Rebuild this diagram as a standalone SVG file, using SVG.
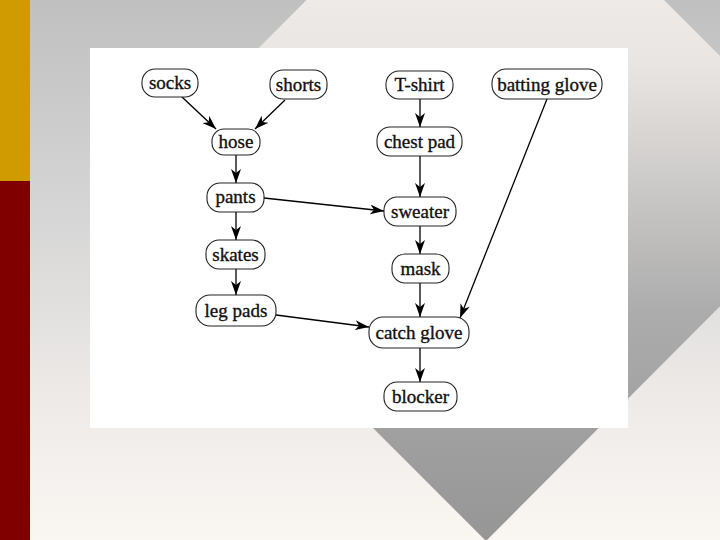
<svg xmlns="http://www.w3.org/2000/svg" width="720" height="540" viewBox="0 0 720 540">
  <defs>
    <linearGradient id="bgGrad" gradientUnits="userSpaceOnUse" x1="0" y1="0" x2="0" y2="540">
      <stop offset="0" stop-color="#c0c0c0"/>
      <stop offset="0.35" stop-color="#d3d3d3"/>
      <stop offset="0.7" stop-color="#ebe8e6"/>
      <stop offset="1" stop-color="#faf7f3"/>
    </linearGradient>
    <linearGradient id="diaGrad" gradientUnits="userSpaceOnUse" x1="0" y1="0" x2="0" y2="540">
      <stop offset="0" stop-color="#eeeae7"/>
      <stop offset="0.12" stop-color="#e9e5e2"/>
      <stop offset="0.58" stop-color="#acacac"/>
      <stop offset="0.8" stop-color="#a0a0a0"/>
      <stop offset="1" stop-color="#969696"/>
    </linearGradient>
    <marker id="arrow" viewBox="0 0 14 10" refX="14" refY="5" markerWidth="14" markerHeight="10" markerUnits="userSpaceOnUse" orient="auto">
      <path d="M0,0 L14,5 L0,10 L4,5 z" fill="#000"/>
    </marker>
    <style>
      .node rect { fill: #ffffff; stroke: #222; stroke-width: 1.1; }
      .node text { font-family: "Liberation Serif", "Times New Roman", serif; font-size: 19px; fill: #111; stroke: #111; stroke-width: 0.35; text-anchor: middle; }
      .edge { stroke: #000; stroke-width: 1.3; fill: none; marker-end: url(#arrow); }
    </style>
  </defs>

  <!-- background -->
  <rect x="0" y="0" width="720" height="540" fill="url(#bgGrad)"/>
  <polygon points="485,-179 845,181 486,541 126,181" fill="url(#diaGrad)"/>
  <rect x="0" y="0" width="30" height="181" fill="#cf9b00"/>
  <rect x="0" y="181" width="30" height="359" fill="#800000"/>

  <!-- white panel -->
  <rect x="90" y="48" width="538" height="380" fill="#ffffff"/>

  <!-- connectors -->
  <g id="connectors">
    <line class="edge" x1="182" y1="97" x2="216" y2="129"/>
    <line class="edge" x1="285" y1="100" x2="255" y2="129"/>
    <line class="edge" x1="236" y1="155" x2="236" y2="183"/>
    <line class="edge" x1="420" y1="99" x2="420" y2="127"/>
    <line class="edge" x1="420" y1="156" x2="420" y2="197"/>
    <line class="edge" x1="547" y1="99" x2="460" y2="318"/>
    <line class="edge" x1="264" y1="198" x2="384" y2="211"/>
    <line class="edge" x1="236" y1="212" x2="236" y2="240"/>
    <line class="edge" x1="420" y1="226" x2="420" y2="254"/>
    <line class="edge" x1="236" y1="269" x2="236" y2="295"/>
    <line class="edge" x1="420" y1="283" x2="420" y2="317"/>
    <line class="edge" x1="276" y1="315" x2="369" y2="327"/>
    <line class="edge" x1="420" y1="348" x2="420" y2="382"/>
  </g>

  <!-- nodes -->
  <g id="socks" class="node"><rect x="142" y="69" width="56" height="28" rx="13"/><text x="170" y="89">socks</text></g>
  <g id="shorts" class="node"><rect x="270" y="70" width="57" height="29" rx="13"/><text x="298.5" y="91">shorts</text></g>
  <g id="tshirt" class="node"><rect x="386" y="71" width="67" height="28" rx="13"/><text x="419.5" y="91">T-shirt</text></g>
  <g id="batting-glove" class="node"><rect x="492" y="69" width="110" height="30" rx="14"/><text x="547" y="90.5">batting glove</text></g>
  <g id="hose" class="node"><rect x="212" y="129" width="48" height="26" rx="12"/><text x="236" y="148">hose</text></g>
  <g id="chest-pad" class="node"><rect x="377" y="127" width="85" height="29" rx="13"/><text x="419.5" y="148">chest pad</text></g>
  <g id="pants" class="node"><rect x="207" y="183" width="57" height="29" rx="13"/><text x="235.5" y="203">pants</text></g>
  <g id="sweater" class="node"><rect x="384" y="197" width="72" height="29" rx="13"/><text x="420" y="218">sweater</text></g>
  <g id="skates" class="node"><rect x="206" y="240" width="59" height="29" rx="13"/><text x="235.5" y="261">skates</text></g>
  <g id="mask" class="node"><rect x="392" y="254" width="57" height="29" rx="13"/><text x="420.5" y="275">mask</text></g>
  <g id="leg-pads" class="node"><rect x="196" y="295" width="80" height="31" rx="14"/><text x="236" y="317">leg pads</text></g>
  <g id="catch-glove" class="node"><rect x="369" y="317" width="100" height="31" rx="14"/><text x="419" y="339">catch glove</text></g>
  <g id="blocker" class="node"><rect x="384" y="382" width="73" height="29" rx="13"/><text x="420.5" y="403">blocker</text></g>
</svg>
